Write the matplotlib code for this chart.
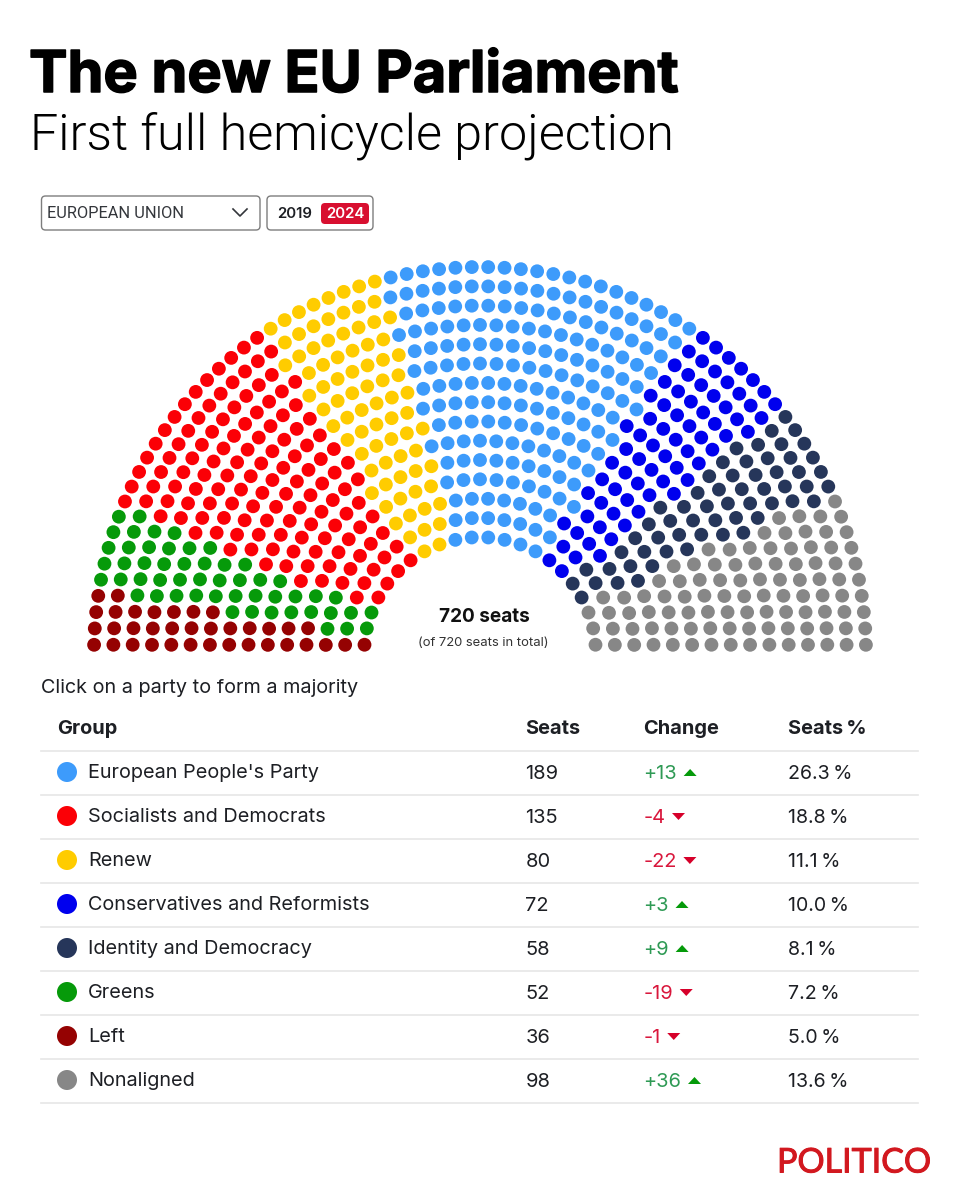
import numpy as np
import matplotlib
matplotlib.use("Agg")
import matplotlib.pyplot as plt
from matplotlib.patches import FancyBboxPatch, Circle, Polygon
import matplotlib.patheffects as pe

# table order
groups = ["European People's Party", "Socialists and Democrats", "Renew",
          "Conservatives and Reformists", "Identity and Democracy", "Greens",
          "Left", "Nonaligned"]
seats = [189, 135, 80, 72, 58, 52, 36, 98]
change = [13, -4, -22, 3, 9, -19, -1, 36]
seat_pct = ["26.3\u2009%", "18.8\u2009%", "11.1\u2009%", "10.0\u2009%", "8.1\u2009%", "7.2\u2009%", "5.0\u2009%", "13.6\u2009%"]
colors = ["#3d9bfb", "#fb0006", "#ffcc00", "#0000ee", "#26365a", "#069a0a", "#950202", "#878787"]
# left to right in the hemicycle
hemi_order = [6, 5, 1, 2, 0, 3, 4, 7]

n_rows = 15
r_outer = 386.0
r_inner = 115.8
cx, cy = 480.0, 653.0

FONT = "Inter"
INK = "#1d1f24"

fig = plt.figure(figsize=(9.6, 12), dpi=100, facecolor="white")
ax = fig.add_axes([0, 0, 1, 1])
ax.set_xlim(0, 960)
ax.set_ylim(1200, 0)
ax.axis("off")

def px(size):
    # css pixels to points
    return size * 72 / 100

# title
ax.text(29, 92, "The new EU Parliament", fontsize=px(57.7), fontweight="bold", family=FONT,
        color="black", va="baseline",
        path_effects=[pe.withStroke(linewidth=1.1, foreground="black")])
ax.text(30, 150, "First full hemicycle projection", fontsize=px(50.2), fontweight=300,
        family="Roboto", color="black", va="baseline")

# selector boxes
for x0, x1 in [(41.5, 260), (267, 373)]:
    ax.add_patch(FancyBboxPatch((x0 + 4, 200), x1 - x0 - 8, 26, boxstyle="round,pad=4,rounding_size=4",
                                fc="white", ec="#7d7d7d", lw=1.0))
ax.text(47, 213.5, "EUROPEAN UNION", fontsize=px(16.4), family="Roboto", color="#33363b", va="center")
ax.plot([233, 240, 247], [209, 216, 209], color="#33363b", lw=1.2)
ax.text(277, 214, "2019", fontsize=px(15), family=FONT, fontweight=600, color=INK, va="center")
ax.add_patch(FancyBboxPatch((325, 207), 40, 13, boxstyle="round,pad=4,rounding_size=4",
                            fc="#d80f30", ec="none"))
ax.text(345, 214, "2024", fontsize=px(15), family=FONT, fontweight=600, color="white",
        va="center", ha="center")

# seats per row, largest remainder on the radius
radii = np.linspace(r_outer, r_inner, n_rows)
quota = radii * sum(seats) / radii.sum()
per_row = np.floor(quota).astype(int)
extra = sum(seats) - per_row.sum()
per_row[np.argsort(per_row - quota)[:extra]] += 1

angles, rads = [], []
for r, n in zip(radii, per_row):
    angles.extend((np.arange(n) + 0.5) * np.pi / n)
    rads.extend([r] * n)
angles = np.array(angles)
rads = np.array(rads)
order = np.argsort(angles, kind="stable")
seat_colors = np.repeat([colors[i] for i in hemi_order], [seats[i] for i in hemi_order])
ax.scatter(cx - rads[order] * np.cos(angles[order]), cy - rads[order] * np.sin(angles[order]),
           s=px(13.8) ** 2, c=list(seat_colors), linewidths=0, zorder=3)

ax.text(484, 617, "720 seats", fontsize=px(19), fontweight="bold", family=FONT, color="#111111",
        ha="center", va="center")
ax.text(483, 643, "(of 720 seats in total)", fontsize=px(13), family=FONT, color="#333333",
        ha="center", va="center")

ax.text(41, 688, "Click on a party to form a majority", fontsize=px(19.8), family=FONT,
        color=INK, va="center")

# table
col_seats, col_change, col_pct = 525.5, 643.5, 788.5
head_y = 729
for x, label in [(57.5, "Group"), (col_seats, "Seats"), (col_change, "Change"), (col_pct, "Seats\u2009%")]:
    ax.text(x, head_y, label, fontsize=px(20), fontweight="bold", family=FONT, color=INK, va="center")

row_h = 44
line_y = 751
ax.plot([41, 918], [line_y, line_y], color="#e6e6e6", lw=1.2)
fig.canvas.draw()
rend = fig.canvas.get_renderer()
for i, name in enumerate(groups):
    y = 772 + i * row_h
    ax.plot([41, 918], [line_y + (i + 1) * row_h] * 2, color="#e6e6e6", lw=1.2)
    ax.add_patch(Circle((67, y), 10, fc=colors[i], ec="none"))
    ax.text(88, y + 1, name, fontsize=px(19.9), family=FONT, color=INK, va="center")
    ax.text(col_seats, y + 2, str(seats[i]), fontsize=px(20), family=FONT, color=INK, va="center")
    up = change[i] > 0
    ch = ax.text(col_change, y + 2, f"{change[i]:+d}", fontsize=px(20), family=FONT,
                 color="#2f9a55" if up else "#d9173c", va="center")
    right = ch.get_window_extent(rend).x1
    tx = right + 13
    if up:
        tri = [(tx - 6.5, y + 4), (tx + 6.5, y + 4), (tx, y - 3)]
    else:
        tri = [(tx - 6.5, y - 3), (tx + 6.5, y - 3), (tx, y + 4)]
    ax.add_patch(Polygon(tri, fc="#059a0a" if up else "#d6002a", ec="none"))
    ax.text(col_pct, y + 2, seat_pct[i], fontsize=px(19.6), family=FONT, color=INK, va="center")

ax.text(777, 1172.5, "POLITICO", fontsize=px(34), family="Lato", color="#d2181f", va="baseline",
        path_effects=[pe.withStroke(linewidth=0.7, foreground="#d2181f")])

fig.savefig("out.png", dpi=100, facecolor="white")
